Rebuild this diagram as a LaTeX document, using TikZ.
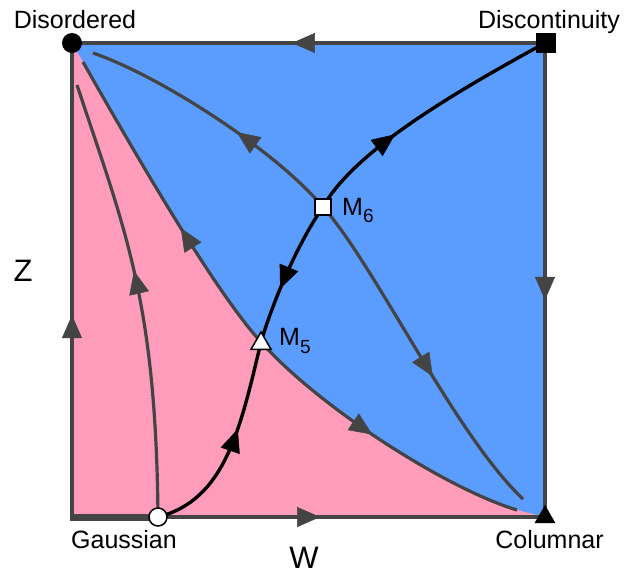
\documentclass[tikz,border=0pt]{standalone}
\usepackage{fontspec}
\setmainfont{Liberation Sans}
\usetikzlibrary{arrows.meta,decorations.markings,shapes.geometric}
\definecolor{pinkc}{RGB}{255,155,187}
\definecolor{bluec}{RGB}{91,156,255}
\definecolor{grayc}{RGB}{68,68,68}
\begin{document}
\begin{tikzpicture}[x=1pt,y=-1pt,
  >={Triangle[length=23pt,width=20pt,line width=0.5pt]},
  gline/.style={draw=grayc,line width=3.2pt},
  bline/.style={draw=black,line width=3.4pt},
  tipg/.style={decoration={markings,mark=at position #1 with {\arrow[grayc]{>}}},postaction={decorate}},
  tipb/.style={decoration={markings,mark=at position #1 with {\arrow[black]{>}}},postaction={decorate}},
  lab/.style={font=\fontsize{25}{30}\selectfont,inner sep=0pt,anchor=base},
  biglab/.style={font=\fontsize{31}{36}\selectfont,inner sep=0pt,anchor=base},
  whitemark/.style={fill=white,draw=black,line width=1.5pt,inner sep=0pt},
  blackmark/.style={fill=black,inner sep=0pt}]
\useasboundingbox (0,0) rectangle (634,574);
\coordinate (dis) at (72,43);
\coordinate (disc) at (545,43);
\coordinate (col) at (545,517);
\coordinate (gau) at (158,517);
\coordinate (bl) at (72,517);
\coordinate (m6) at (323,207);
\coordinate (m5) at (261,342);
\coordinate (sa) at (83,62);
\coordinate (sb) at (517,510);
% regions
\fill[bluec] (dis) rectangle (col);
\fill[pinkc] (dis) -- (bl) -- (col) -- (sb)
   .. controls (447,489) and (320,408) .. (m5)
   .. controls (215,292) and (133,150) .. (sa) -- cycle;
% border
\draw[gline,tipg=0.535] (disc) -- (dis);
\draw[gline,tipg=0.542] (disc) -- (col);
\draw[gline,tipg=0.426] (bl) -- (dis);
\draw[gline,tipg=0.419] (gau) -- (col);
\draw[grayc,line width=7pt] ([xshift=-2pt]bl) -- (gau);
% separatrix
\draw[gline,tipg=0.42] (m5) .. controls (215,292) and (133,150) .. (sa);
\draw[gline,tipg=0.47] (m5) .. controls (320,408) and (447,489) .. (sb);
% gray flow lines
\draw[gline,tipg=0.56] (gau) .. controls (156,300) and (125,230) .. (77,85);
\draw[gline,tipg=0.41] (m6) .. controls (275,150) and (160,76) .. (93,53);
\draw[gline,tipg=0.57] (m6) .. controls (375,265) and (455,435) .. (523,499);
% black flow lines
\draw[bline,tipb=0.37] (m6) .. controls (352,155) and (440,100) .. (disc);
\draw[bline,tipb=0.62] (m6) .. controls (300,240) and (275,295) .. (m5);
\draw[bline,tipb=0.58] (gau) .. controls (225,500) and (240,430) .. (m5);
% fixed points
\node[blackmark,circle,minimum size=20pt] (ndis) at (dis) {};
\node[blackmark,rectangle,minimum size=19.5pt] (ndisc) at (546,43) {};
\node[blackmark,regular polygon,regular polygon sides=3,minimum size=24pt] (ncol) at (545,517) {};
\node[whitemark,circle,minimum size=18pt] (ngau) at (gau) {};
\node[whitemark,rectangle,minimum size=16pt] (nm6) at (m6) {};
\node[whitemark,regular polygon,regular polygon sides=3,minimum size=23pt] (nm5) at (261,343.5) {};
% labels
\node[lab] (tdis) at (75,28) {Disordered};
\node[lab] (tdisc) at (549,28) {Discontinuity};
\node[lab] (tgau) at (124,548) {Gaussian};
\node[lab] (tcol) at (549.5,548) {Columnar};
\node[biglab] (tw) at (304,568) {W};
\node[biglab] (tz) at (23,281) {Z};
\node[lab,anchor=base west] (tm6) at (342,215) {M\raisebox{-7.5pt}{\fontsize{19}{19}\selectfont 6}};
\node[lab,anchor=base west] (tm5) at (279,345) {M\raisebox{-8.5pt}{\fontsize{19}{19}\selectfont 5}};
\end{tikzpicture}
\end{document}
